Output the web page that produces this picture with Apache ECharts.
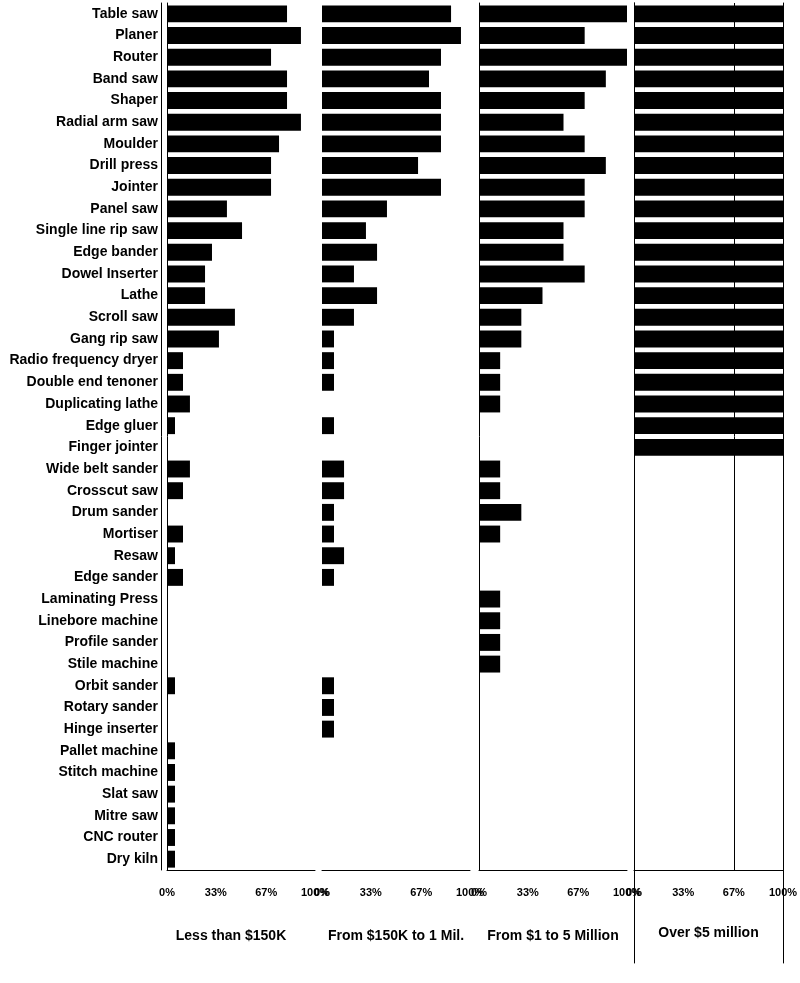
<!DOCTYPE html>
<html>
<head>
<meta charset="utf-8">
<script src="https://cdn.jsdelivr.net/npm/echarts@6/dist/echarts.min.js"></script>
<style>
  html, body { margin: 0; padding: 0; background: #ffffff; }
  #chart { width: 800px; height: 983px; }
</style>
</head>
<body>
<div id="chart"></div>
<script>
var categories = [
  "Table saw", "Planer", "Router", "Band saw", "Shaper", "Radial arm saw", "Moulder",
  "Drill press", "Jointer", "Panel saw", "Single line rip saw", "Edge bander",
  "Dowel Inserter", "Lathe", "Scroll saw", "Gang rip saw", "Radio frequency dryer",
  "Double end tenoner", "Duplicating lathe", "Edge gluer", "Finger jointer",
  "Wide belt sander", "Crosscut saw", "Drum sander", "Mortiser", "Resaw", "Edge sander",
  "Laminating Press", "Linebore machine", "Profile sander", "Stile machine",
  "Orbit sander", "Rotary sander", "Hinge inserter", "Pallet machine", "Stitch machine",
  "Slat saw", "Mitre saw", "CNC router", "Dry kiln"
]

// percent of firms using each machine
var lessThan150K = [
  81.1, 90.5, 70.3, 81.1, 81.1, 90.5, 75.7, 70.3, 70.3, 40.5, 50.7, 30.4,
  25.7, 25.7, 45.9, 35.1, 10.8, 10.8, 15.5, 5.4, 0,
  15.5, 10.8, 0, 10.8, 5.4, 10.8, 0, 0, 0, 0,
  5.4, 0, 0, 5.4, 5.4, 5.4, 5.4, 5.4, 5.4
]
var from150KTo1M = [
  87.2, 93.9, 80.4, 72.3, 80.4, 80.4, 80.4, 64.9, 80.4, 43.9, 29.7, 37.2,
  21.6, 37.2, 21.6, 8.1, 8.1, 8.1, 0, 8.1, 0,
  14.9, 14.9, 8.1, 8.1, 14.9, 8.1, 0, 0, 0, 0,
  8.1, 8.1, 8.1, 0, 0, 0, 0, 0, 0
]
var from1To5M = [
  100, 71.4, 100, 85.7, 71.4, 57.1, 71.4, 85.7, 71.4, 71.4, 57.1, 57.1,
  71.4, 42.9, 28.6, 28.6, 14.3, 14.3, 14.3, 0, 0,
  14.3, 14.3, 28.6, 14.3, 0, 0, 14.3, 14.3, 14.3, 14.3,
  0, 0, 0, 0, 0, 0, 0, 0, 0
]
var over5M = [
  100, 100, 100, 100, 100, 100, 100, 100, 100, 100, 100, 100,
  100, 100, 100, 100, 100, 100, 100, 100, 100,
  0, 0, 0, 0, 0, 0, 0, 0, 0, 0,
  0, 0, 0, 0, 0, 0, 0, 0, 0
]

var tickValues = [0, 33, 67, 100]
var panelTitles = ["Less than $150K", "From $150K to 1 Mil.", "From $1 to 5 Million", "Over $5 million"]
var panelData = [lessThan150K, from150KTo1M, from1To5M, over5M]

var font = "'Liberation Sans', Arial, sans-serif"
var black = "#000000"
var lineStyle = { color: black, width: 1 }

var chart = echarts.init(document.getElementById("chart"))

var panelLeft = [167, 322, 479, 634]
var panelWidth = [148, 148, 148, 149]
var plotTop = 3
var plotHeight = 867

var grids = []
var xAxes = []
for (var i = 0; i < 4; i++) {
  grids.push({ left: panelLeft[i], top: plotTop, width: panelWidth[i], height: plotHeight, outerBoundsMode: "none", containLabel: false })
  xAxes.push({
    gridIndex: i,
    type: "value",
    min: 0,
    max: 100,
    axisLine: { show: true, onZero: false, lineStyle: lineStyle },
    axisTick: { show: false },
    splitLine: { show: false },
    axisLabel: {
      customValues: tickValues,
      formatter: "{value}%",
      margin: 17,
      color: black,
      fontFamily: font,
      fontWeight: "bold",
      fontSize: 11
    },
    name: panelTitles[i],
    nameLocation: "middle",
    nameGap: i === 3 ? 56 : 59,
    nameTextStyle: {
      color: black,
      fontFamily: font,
      fontWeight: "bold",
      fontSize: 14,
      padding: i === 0 ? [0, 20, 0, 0] : 0
    }
  })
}
// extra grid on the last panel, only for its long frame lines
grids.push({ left: 634, top: plotTop, width: 149, height: 960, outerBoundsMode: "none", containLabel: false })
xAxes.push({ gridIndex: 4, type: "value", show: false })

function catAxis(grid, showLine, extra) {
  var ax = {
    gridIndex: grid,
    type: "category",
    position: "left",
    inverse: true,
    data: categories,
    axisLine: { show: showLine, onZero: false, lineStyle: lineStyle },
    axisTick: { show: false },
    axisLabel: { show: false },
    splitLine: { show: false }
  }
  return Object.assign(ax, extra || {})
}

var yAxes = [
  catAxis(0, true, {
    axisLabel: {
      show: true,
      interval: 0,
      margin: 9,
      color: black,
      fontFamily: font,
      fontWeight: "bold",
      fontSize: 14
    }
  }),
  // second frame line just left of the first panel
  catAxis(0, true, { offset: 6 }),
  catAxis(1, false),
  catAxis(2, true),
  catAxis(3, true),
  { gridIndex: 4, type: "value", position: "left", axisLine: { show: true, onZero: false, lineStyle: lineStyle }, axisLabel: { show: false }, axisTick: { show: false }, splitLine: { show: false } },
  { gridIndex: 4, type: "value", position: "right", axisLine: { show: true, onZero: false, lineStyle: lineStyle }, axisLabel: { show: false }, axisTick: { show: false }, splitLine: { show: false } }
]

var yIndexFor = [0, 2, 3, 4]
var series = []
for (var s = 0; s < 4; s++) {
  var item = {
    type: "bar",
    name: panelTitles[s],
    xAxisIndex: s,
    yAxisIndex: yIndexFor[s],
    data: panelData[s],
    barCategoryGap: "22%",
    itemStyle: { color: black },
    silent: true
  }
  if (s === 3) {
    item.markLine = {
      silent: true,
      symbol: "none",
      label: { show: false },
      lineStyle: { color: black, width: 1, type: "solid" },
      data: [{ xAxis: 67 }]
    }
  }
  series.push(item)
}

chart.setOption({
  animation: false,
  backgroundColor: "#ffffff",
  grid: grids,
  xAxis: xAxes,
  yAxis: yAxes,
  series: series
})
</script>
</body>
</html>
